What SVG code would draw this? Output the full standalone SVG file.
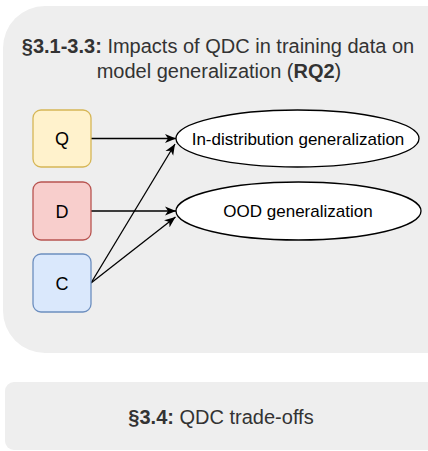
<svg xmlns="http://www.w3.org/2000/svg" width="428" height="451" viewBox="0 0 428 451">
<defs>
<style>
.panel{fill:#eeeeee;stroke:none}
.title{font-family:"Liberation Sans",Arial,sans-serif;font-size:20px;fill:#333333;text-anchor:middle}
.lbl{font-family:"Liberation Sans",Arial,sans-serif;font-size:17px;fill:#000000;text-anchor:middle}
.big{font-size:18px}
.edge{stroke:#000000;stroke-width:1.3;fill:none;marker-end:url(#arr)}
.ell{fill:#ffffff;stroke:#000000;stroke-width:1.3}
</style>
<marker id="arr" markerUnits="userSpaceOnUse" markerWidth="12" markerHeight="10" refX="11" refY="4.5" orient="auto" viewBox="0 0 12 9">
<path d="M0,0 L11,4.5 L0,9 L3,4.5 z" fill="#000000"/>
</marker>
</defs>
<g id="panel-main">
<rect class="panel" x="3" y="6" width="470" height="347" rx="42" ry="42"/>
<text class="title" x="218" y="53"><tspan font-weight="bold">§3.1-3.3:</tspan> Impacts of QDC in training data on</text>
<text class="title" x="219" y="77.5">model generalization (<tspan font-weight="bold">RQ2</tspan>)</text>
</g>
<g id="panel-tradeoffs">
<rect class="panel" x="5" y="382" width="470" height="68" rx="9" ry="9"/>
<text class="title" x="221" y="424"><tspan font-weight="bold">§3.4:</tspan> QDC trade-offs</text>
</g>
<g id="connectors">
<line class="edge" x1="91" y1="138.5" x2="176" y2="138.5"/>
<line class="edge" x1="91" y1="211" x2="176" y2="211"/>
<line class="edge" x1="91" y1="283" x2="175" y2="144"/>
<line class="edge" x1="91" y1="283" x2="175.5" y2="217"/>
</g>
<g id="node-Q">
<rect x="33" y="110" width="58" height="57" rx="8" ry="8" fill="#fff2cc" stroke="#d6b656" stroke-width="1.3"/>
<text class="lbl big" x="62" y="145">Q</text>
</g>
<g id="node-D">
<rect x="33" y="182" width="58" height="58" rx="8" ry="8" fill="#f8cecc" stroke="#b85450" stroke-width="1.3"/>
<text class="lbl big" x="62" y="217.5">D</text>
</g>
<g id="node-C">
<rect x="33" y="254" width="58" height="58" rx="8" ry="8" fill="#dae8fc" stroke="#6c8ebf" stroke-width="1.3"/>
<text class="lbl big" x="62" y="289.5">C</text>
</g>
<g id="node-indist">
<ellipse class="ell" cx="297.5" cy="138.5" rx="121.5" ry="28.5"/>
<text class="lbl" x="298" y="144.5">In-distribution generalization</text>
</g>
<g id="node-ood">
<ellipse class="ell" cx="298.5" cy="211" rx="122.5" ry="29"/>
<text class="lbl" x="298" y="217">OOD generalization</text>
</g>
</svg>
